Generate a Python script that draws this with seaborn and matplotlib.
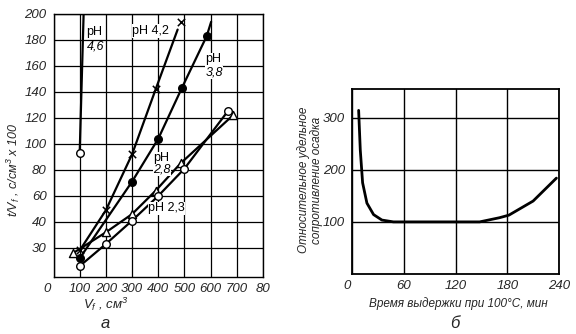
import numpy as np
import pandas as pd
import seaborn as sns
import matplotlib
matplotlib.use("Agg")
import matplotlib.pyplot as plt
from matplotlib.transforms import ScaledTranslation

sns.set_theme(style="ticks")
plt.rcParams["font.family"] = ["Liberation Sans", "DejaVu Sans"]
plt.rcParams["mathtext.fontset"] = "custom"
plt.rcParams["mathtext.it"] = "Liberation Sans:italic"
plt.rcParams["mathtext.rm"] = "Liberation Sans:italic"

# ---- panel а: filtration curves t/Vf vs Vf at different pH ----
x_ticks_a = [0, 100, 200, 300, 400, 500, 600, 700, 800]
x_labels_a = ["0", "100", "200", "300", "400", "500", "600", "700", "80"]
y_ticks_a = [30, 40, 60, 80, 100, 120, 140, 160, 180, 200]

# markers
ph46_x = [100]
ph46_y = [93]
ph42_x = [100, 200, 300, 390, 485]
ph42_y = [29, 49, 92, 142, 194]
ph38_x = [100, 300, 400, 490, 585]
ph38_y = [26, 71, 104, 143, 183]
ph28_x = [75, 200, 300, 390, 485, 685]
ph28_y = [28, 36, 46, 64, 85, 122]
ph23_x = [100, 200, 300, 400, 500, 665]
ph23_y = [23, 31.5, 41, 60, 81, 125]

# drawn curves (including their run beyond the last mark)
ph46_line_x = [100, 115]
ph46_line_y = [93, 200]
ph42_line_x = [100, 200, 300, 390, 474]
ph42_line_y = [29, 49, 92, 142, 188]
ph38_line_x = [100, 300, 400, 490, 585, 602]
ph38_line_y = [26, 71, 104, 143, 183, 194]

# panel б: relative specific resistance of the cake vs holding time at 100°C
x_ticks_b = [0, 60, 120, 180, 240]
y_ticks_b = [100, 200, 300]
hold_time = [7.7, 9.6, 12.3, 17.3, 25, 34.7, 48, 90, 148, 171, 182, 210, 237]
resistance = [314, 238, 175, 136, 114, 103.5, 100, 100, 100, 108, 113, 140, 184]


def fwd(v):
    v = np.asarray(v, dtype=float)
    return np.where(v < 40, (v - 30) / 10.0, 1 + (v - 40) / 20.0)


def inv(p):
    p = np.asarray(p, dtype=float)
    return np.where(p < 1, 30 + 10 * p, 40 + 20 * (p - 1))


def nudge_first_xlabel(axis, dx_px):
    # shift the "0" label slightly left of the corner
    lab = axis.get_xticklabels()[0]
    lab.set_transform(lab.get_transform() +
                      ScaledTranslation(dx_px / 100, 0, axis.figure.dpi_scale_trans))


fig = plt.figure(figsize=(5.76, 3.34), dpi=100)
fig.patch.set_facecolor("white")

ax = fig.add_axes([53.5 / 576, (334 - 277) / 334, (263 - 53.5) / 576, (277 - 14) / 334])
ax.set_yscale("function", functions=(fwd, inv))

lw = 1.6
for lx, ly in [(ph46_line_x, ph46_line_y), (ph42_line_x, ph42_line_y),
               (ph38_line_x, ph38_line_y), (ph28_x, ph28_y), (ph23_x, ph23_y)]:
    sns.lineplot(x=lx, y=ly, ax=ax, color="black", lw=lw, sort=False,
                 estimator=None, zorder=3)

def marks(xs, ys, marker, face, size):
    sns.scatterplot(x=xs, y=ys, ax=ax, marker=marker, s=size, color=face,
                    edgecolor="black", linewidth=1.0, zorder=4)

marks(ph46_x, ph46_y, "o", "white", 30)
sns.scatterplot(x=ph42_x, y=ph42_y, ax=ax, marker="x", s=28, color="black",
                linewidth=1.1, zorder=4)
marks(ph38_x, ph38_y, "o", "black", 30)
marks(ph28_x, ph28_y, "^", "white", 34)
marks(ph23_x, ph23_y, "o", "white", 30)

ax.set_xlim(0, 800)
ax.set_ylim(18.8, 200)
ax.set_xticks(x_ticks_a)
ax.set_xticklabels(x_labels_a)
ax.set_yticks(y_ticks_a)
ax.set_yticklabels([str(v) for v in y_ticks_a])
ax.yaxis.set_minor_locator(matplotlib.ticker.NullLocator())
ax.grid(True, color="black", lw=0.9)
ax.tick_params(axis="y", length=0, labelsize=9.5, pad=5)
ax.tick_params(axis="x", length=0, labelsize=9.5, pad=4)
for lab in ax.get_xticklabels() + ax.get_yticklabels():
    lab.set_fontstyle("italic")
for s in ax.spines.values():
    s.set_color("black")
    s.set_linewidth(1.0)
ax.set_xlabel("")
ax.set_ylabel("")

txt = dict(fontsize=9, color="black", zorder=5)
ax.text(125, 186, "pH", ha="left", va="center", **txt)
ax.text(128, 175, "4,6", ha="left", va="center", style="italic", **txt)
ax.text(372, 187, "pH 4,2", ha="center", va="center",
        bbox=dict(fc="white", ec="none", pad=0.5), **txt)
ax.text(580, 165, "pH", ha="left", va="center",
        bbox=dict(fc="white", ec="none", pad=0.3), **txt)
ax.text(580, 155, "3,8", ha="left", va="center", style="italic",
        bbox=dict(fc="white", ec="none", pad=0.3), **txt)
ax.text(413, 89, "pH", ha="center", va="center",
        bbox=dict(fc="white", ec="none", pad=0.3), **txt)
ax.text(413, 80, "2,8", ha="center", va="center", style="italic",
        bbox=dict(fc="white", ec="none", pad=0.3), **txt)
ax.text(432, 50.5, "pH 2,3", ha="center", va="center",
        bbox=dict(fc="white", ec="none", pad=0.3), **txt)

fig.text(13 / 576, 1 - 170 / 334, "t/V$_f$ , с/см$^3$ x 100", rotation=90,
         ha="center", va="center", fontsize=9, style="italic")
fig.text(106 / 576, 1 - 304 / 334, "V$_f$ , см$^3$", ha="center", va="center",
         fontsize=9.5, style="italic")
fig.text(105 / 576, 1 - 323 / 334, "а", ha="center", va="center",
         fontsize=12, style="italic")

# ---- panel б ----
bx = fig.add_axes([352 / 576, (334 - 274) / 334, (559 - 352) / 576, (274 - 89) / 334])
df_b = pd.DataFrame({"t": hold_time, "r": resistance})
sns.lineplot(data=df_b, x="t", y="r", ax=bx, color="black", lw=2.0,
             sort=False, estimator=None, zorder=3)
bx.set_xlim(0, 240)
bx.set_ylim(0, 355)
bx.set_xticks(x_ticks_b)
bx.set_yticks(y_ticks_b)
bx.grid(True, color="black", lw=1.0)
bx.tick_params(axis="y", length=0, labelsize=9.5, pad=5)
bx.tick_params(axis="x", length=0, labelsize=9.5, pad=4)
for lab in bx.get_xticklabels() + bx.get_yticklabels():
    lab.set_fontstyle("italic")
for s in bx.spines.values():
    s.set_color("black")
    s.set_linewidth(1.3)
bx.set_xlabel("")
bx.set_ylabel("")

nudge_first_xlabel(ax, -6)
nudge_first_xlabel(bx, -5)

fig.text(310 / 576, 1 - 180 / 334, "Относительное удельное\nсопротивление осадка",
         rotation=90, ha="center", va="center", fontsize=8.5, style="italic",
         linespacing=1.0)
fig.text(458 / 576, 1 - 304 / 334, "Время выдержки при 100°С, мин",
         ha="center", va="center", fontsize=8.5, style="italic")
fig.text(455 / 576, 1 - 324 / 334, "б", ha="center", va="center",
         fontsize=12, style="italic")

fig.savefig("out.png", dpi=100, facecolor="white")
